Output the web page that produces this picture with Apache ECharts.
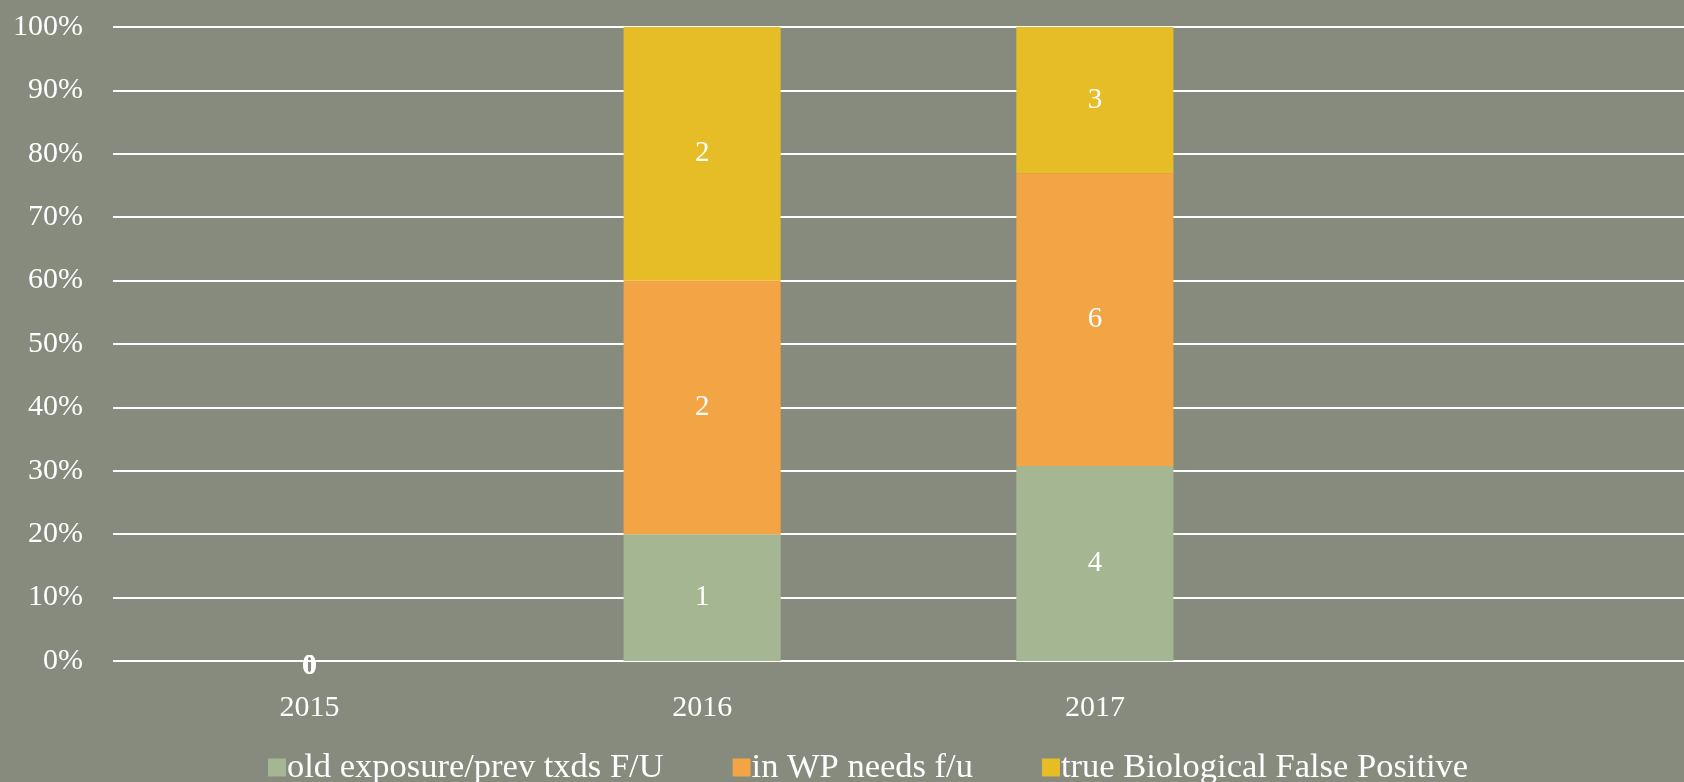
<!DOCTYPE html>
<html>
<head>
<meta charset="utf-8">
<script src="https://cdn.jsdelivr.net/npm/echarts@6/dist/echarts.min.js"></script>
<style>
html,body{margin:0;padding:0;background:#878b7e;}
#c{width:1684px;height:782px;}
</style>
</head>
<body>
<div id="c"></div>
<script>
const categories = ['2015', '2016', '2017', ''];
const seriesNames = ['old exposure/prev txds F/U', 'in WP needs f/u', 'true Biological False Positive'];
const oldExposure = [0, 1, 4, null];
const inWP = [0, 2, 6, null];
const trueBFP = [0, 2, 3, null];
const yTicks = [0, 10, 20, 30, 40, 50, 60, 70, 80, 90, 100];

const colors = ['#a5b693', '#f3a445', '#e6bc27'];
const raw = [oldExposure, inWP, trueBFP];
const totals = categories.map((c, i) => raw.reduce((s, arr) => s + (arr[i] || 0), 0));

const FONT = '"Liberation Serif", serif';

const chart = echarts.init(document.getElementById('c'));
chart.setOption({
  backgroundColor: '#878b7e',
  animation: false,
  textStyle: { fontFamily: FONT },
  grid: { left: 113, top: 27, width: 1580, height: 634 },
  legend: {
    left: 263, top: 745,
    itemWidth: 18, itemHeight: 18, itemGap: 69,
    icon: 'rect',
    textStyle: { color: '#ffffff', fontSize: 34.5, fontFamily: FONT, padding: [0, 0, 0, -4] },
    data: seriesNames
  },
  xAxis: {
    type: 'category',
    data: categories,
    axisLine: { show: false },
    axisTick: { show: false },
    axisLabel: { color: '#ffffff', fontSize: 30, fontFamily: FONT, margin: 32 }
  },
  yAxis: {
    type: 'value',
    min: 0, max: 100, interval: 10,
    axisLine: { show: false },
    axisTick: { show: false },
    splitLine: { lineStyle: { color: '#ffffff', width: 2 } },
    axisLabel: {
      color: '#ffffff', fontSize: 30, fontFamily: FONT, margin: 30,
      formatter: v => yTicks.includes(v) ? v + '%' : ''
    }
  },
  series: raw.map((arr, k) => ({
    name: seriesNames[k],
    type: 'bar',
    stack: 'total',
    barWidth: '40%',
    itemStyle: { color: colors[k] },
    label: {
      show: true,
      position: 'inside',
      color: '#ffffff',
      fontSize: 29,
      fontFamily: FONT,
      formatter: p => String(arr[p.dataIndex])
    },
    data: arr.map((v, i) => {
      if (v === null) return null;
      if (!totals[i]) return { value: 0, label: { offset: [0, 6], fontWeight: 'bold' } };
      return v / totals[i] * 100;
    })
  }))
});
</script>
</body>
</html>
